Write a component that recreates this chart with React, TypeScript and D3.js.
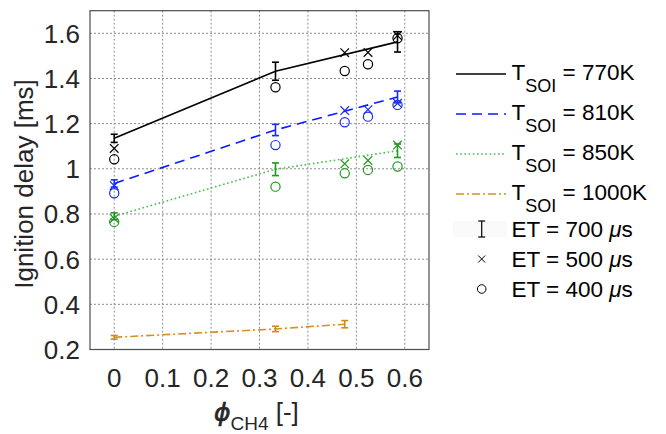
import * as d3 from "d3";

const xTicks = [0, 0.1, 0.2, 0.3, 0.4, 0.5, 0.6];
const yTicks = [0.2, 0.4, 0.6, 0.8, 1, 1.2, 1.4, 1.6];

// ET = 700 us: mean line with error bars
const phiA = [0, 0.333, 0.585];
const phiOrange = [0, 0.333, 0.476];
const mean770 = [1.135, 1.432, 1.562];
const err770 = [0.018, 0.04, 0.045];
const mean810 = [0.935, 1.172, 1.318];
const err810 = [0.016, 0.025, 0.026];
const mean850 = [0.79, 0.998, 1.08];
const err850 = [0.015, 0.028, 0.03];
const mean1000 = [0.254, 0.291, 0.312];
const err1000 = [0.008, 0.012, 0.016];

// ET = 500 us (x) and ET = 400 us (o)
const phiB = [0, 0.476, 0.524, 0.585];
const phiC = [0, 0.333, 0.476, 0.524, 0.585];
const cross770 = [1.09, 1.514, 1.515, 1.59];
const circ770 = [1.042, 1.361, 1.433, 1.463, 1.578];
const cross810 = [0.925, 1.258, 1.262, 1.29];
const circ810 = [0.892, 1.105, 1.206, 1.231, 1.283];
const cross850 = [0.78, 1.022, 1.037, 1.105];
const circ850 = [0.765, 0.921, 0.98, 0.995, 1.01];

const series = [
  { label: "770K", phi: phiA, mean: mean770, err: err770, cross: cross770, circ: circ770, line: "#000", mark: "#000", dash: "" },
  { label: "810K", phi: phiA, mean: mean810, err: err810, cross: cross810, circ: circ810, line: "#0a1cf5", mark: "#1a2cf0", dash: "10,6" },
  { label: "850K", phi: phiA, mean: mean850, err: err850, cross: cross850, circ: circ850, line: "#45c045", mark: "#1f9a1f", dash: "1.6,2.6" },
  { label: "1000K", phi: phiOrange, mean: mean1000, err: err1000, cross: [], circ: [], line: "#d8901c", mark: "#d08a18", dash: "8,3,2,3" },
];

const etLabels = ["700", "500", "400"];

const W = 666;
const H = 434;
const left = 90, right = 429, top = 10.7, bottom = 349.5;
const font = "Liberation Sans, Arial, Helvetica, sans-serif";

export default function App() {
  const x = d3.scaleLinear([-0.05, 0.65], [left, right]);
  const y = d3.scaleLinear([0.2, 1.7], [bottom, top]);
  const line = d3.line<number>();
  const cap = 3.5;
  const xs = 4.3;
  const legX = 456;

  return (
    <svg width={W} height={H} style={{ position: "absolute", left: 0, top: 0 }} fontFamily={font}>
      <rect width={W} height={H} fill="#fff" />
      {/* grid */}
      {xTicks.map((t) => (
        <line key={"gx" + t} x1={x(t)} x2={x(t)} y1={top} y2={bottom} stroke="#8c8c8c" strokeWidth={1} strokeDasharray="2,2" />
      ))}
      {yTicks.slice(1).map((t) => (
        <line key={"gy" + t} x1={left} x2={right} y1={y(t)} y2={y(t)} stroke="#8c8c8c" strokeWidth={1} strokeDasharray="2,2" />
      ))}
      <rect x={left} y={top} width={right - left} height={bottom - top} fill="none" stroke="#4d4d4d" strokeWidth={1.2} />

      {/* tick labels */}
      {xTicks.map((t) => (
        <text key={"tx" + t} x={x(t)} y={387} textAnchor="middle" fontSize={26} fill="#262626">
          {String(t)}
        </text>
      ))}
      {yTicks.map((t) => (
        <text key={"ty" + t} x={80} y={y(t)} dy="0.36em" textAnchor="end" fontSize={26} fill="#262626">
          {String(t)}
        </text>
      ))}

      {/* axis labels */}
      <text transform={`translate(33,184) rotate(-90)`} textAnchor="middle" fontSize={26} fill="#262626">
        Ignition delay [ms]
      </text>
      <text x={214} y={421} fontSize={26} fill="#262626">
        <tspan fontStyle="italic" fontFamily="DejaVu Sans, sans-serif" fontSize={25} stroke="#262626" strokeWidth={0.7}>ϕ</tspan>
        <tspan dy={9} fontSize={19}>CH4</tspan>
        <tspan dy={-9}> [-]</tspan>
      </text>

      {/* data */}
      {series.map((s) => (
        <g key={s.label}>
          <path
            d={line(s.phi.map((p, i) => [x(p), y(s.mean[i])] as [number, number])) || ""}
            fill="none"
            stroke={s.line}
            strokeWidth={1.6}
            strokeDasharray={s.dash}
          />
          {s.phi.map((p, i) => {
            const cx = x(p);
            const y1 = y(s.mean[i] - s.err[i]);
            const y2 = y(s.mean[i] + s.err[i]);
            return (
              <g key={"e" + i} stroke={s.mark} strokeWidth={1.6}>
                <line x1={cx} x2={cx} y1={y1} y2={y2} />
                <line x1={cx - cap} x2={cx + cap} y1={y1} y2={y1} />
                <line x1={cx - cap} x2={cx + cap} y1={y2} y2={y2} />
              </g>
            );
          })}
          {s.cross.map((v, i) => {
            const cx = x(phiB[i]);
            const cy = y(v);
            return (
              <path key={"x" + i} d={`M${cx - xs},${cy - xs}L${cx + xs},${cy + xs}M${cx - xs},${cy + xs}L${cx + xs},${cy - xs}`} stroke={s.mark} strokeWidth={1.2} fill="none" />
            );
          })}
          {s.circ.map((v, i) => (
            <circle key={"c" + i} cx={x(phiC[i])} cy={y(v)} r={4.6} fill="none" stroke={s.mark} strokeWidth={1.2} />
          ))}
        </g>
      ))}

      {/* legend */}
      {series.map((s, i) => {
        const ly = 74 + i * 40;
        return (
          <g key={"lg" + s.label}>
            <line x1={legX} x2={legX + 50} y1={ly} y2={ly} stroke={s.line} strokeWidth={1.6} strokeDasharray={s.dash} />
            <text x={511.5} y={ly + 6} fontSize={22.5} fill="#000">
              T<tspan dy={12} fontSize={18}>SOI</tspan>
              <tspan dy={-12}>{` = ${s.label}`}</tspan>
            </text>
          </g>
        );
      })}
      <rect x={453} y={221} width={54} height={16} fill="#fafafa" />
      {etLabels.map((et, i) => {
        const ly = 229 + i * 30;
        const mx = 481.7;
        let sym;
        if (i === 0) {
          sym = (
            <g stroke="#000" strokeWidth={1.2}>
              <line x1={mx} x2={mx} y1={ly - 8} y2={ly + 8} />
              <line x1={mx - 3.5} x2={mx + 3.5} y1={ly - 8} y2={ly - 8} />
              <line x1={mx - 3.5} x2={mx + 3.5} y1={ly + 8} y2={ly + 8} />
            </g>
          );
        } else if (i === 1) {
          sym = <path d={`M${mx - 3.5},${ly - 3.5}L${mx + 3.5},${ly + 3.5}M${mx - 3.5},${ly + 3.5}L${mx + 3.5},${ly - 3.5}`} stroke="#000" strokeWidth={1} />;
        } else {
          sym = <circle cx={mx} cy={ly} r={4.3} fill="none" stroke="#000" strokeWidth={1} />;
        }
        return (
          <g key={"et" + et}>
            {sym}
            <text x={511.5} y={ly + 8} fontSize={22.5} fill="#000">
              {`ET = ${et} `}
              <tspan fontStyle="italic">μ</tspan>s
            </text>
          </g>
        );
      })}
    </svg>
  );
}
